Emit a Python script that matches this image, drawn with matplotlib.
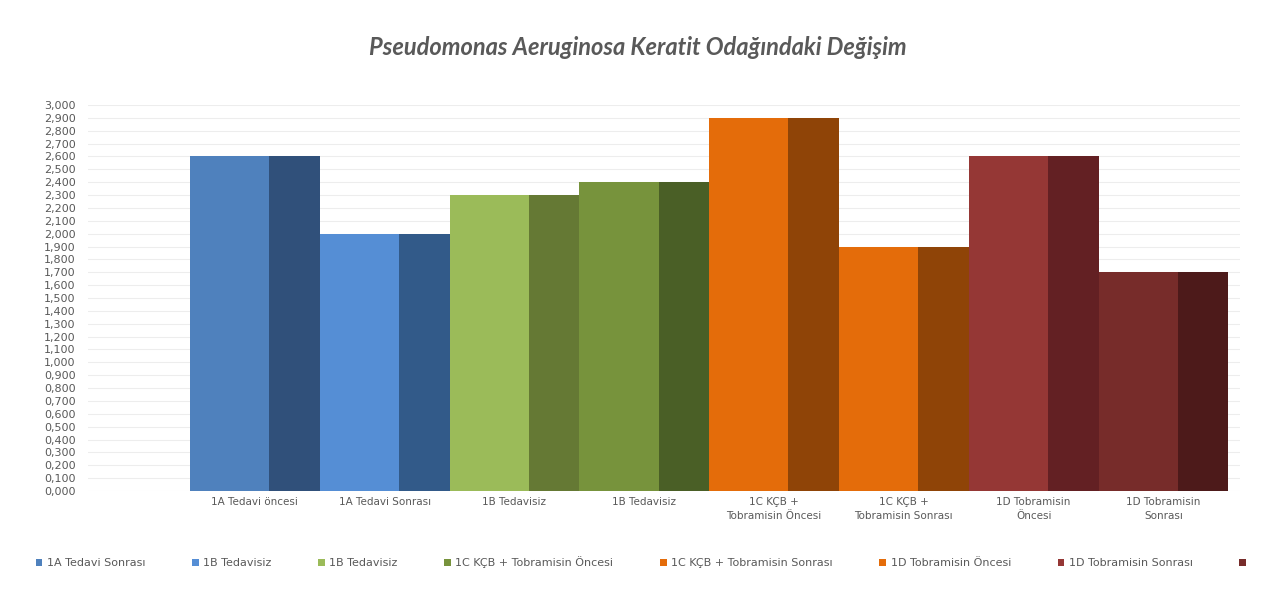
import numpy as np
import matplotlib.pyplot as plt
from matplotlib.patches import Patch

categories = ["1A Tedavi öncesi", "1A Tedavi Sonrası", "1B Tedavisiz", "1B Tedavisiz",
              "1C KÇB +\nTobramisin Öncesi", "1C KÇB +\nTobramisin Sonrası",
              "1D Tobramisin\nÖncesi", "1D Tobramisin\nSonrası"]
front_vals = [2.6, 2.0, 2.3, 2.4, 2.9, 1.9, 2.6, 1.7]
back_vals = [2.6, 2.0, 2.3, 2.4, 2.9, 1.9, 2.6, 1.7]
legend_labels = ["1A Tedavi Sonrası", "1B Tedavisiz", "1B Tedavisiz",
                 "1C KÇB + Tobramisin Öncesi", "1C KÇB + Tobramisin Sonrası",
                 "1D Tobramisin Öncesi", "1D Tobramisin Sonrası", ""]
y_ticks = np.arange(0, 3.01, 0.1)

light = ["#4F81BD", "#558ED5", "#9BBB59", "#77933C", "#E46C0A", "#E46C0A", "#953735", "#772C2A"]
dark = ["#30507A", "#325A89", "#657934", "#4A5F26", "#8F4407", "#8F4407", "#632023", "#4D1A1A"]

fig = plt.figure(figsize=(12.71, 5.95), dpi=100)
ax = fig.add_axes([88 / 1271, 104 / 595, 1152 / 1271, 386 / 595])

x = np.arange(len(categories))
w1 = 0.61
w2 = 0.39
ax.bar(x, front_vals, width=w1, align="edge", color=light, linewidth=0, zorder=3)
ax.bar(x + w1, back_vals, width=w2, align="edge", color=dark, linewidth=0, zorder=3)

ax.set_xlim(-0.786, 8.09)
ax.set_ylim(0, 3.0)
ax.set_yticks(y_ticks)
ax.set_yticklabels([f"{v:.3f}".replace(".", ",") for v in y_ticks], fontsize=8, color="#595959")
ax.set_xticks(x + 0.5)
ax.set_xticklabels(categories, fontsize=7.5, color="#595959", linespacing=1.6)
ax.tick_params(length=0, pad=4)
ax.tick_params(axis="y", pad=9)
ax.grid(axis="y", color="#EDEDED", linewidth=0.8, zorder=0)
for s in ax.spines.values():
    s.set_visible(False)

fig.suptitle("Pseudomonas Aeruginosa Keratit Odağındaki Değişim", x=0.502, y=0.94,
             fontsize=17, fontstyle="italic", fontweight="bold", color="#595959", family="Lato")

handles = [Patch(facecolor=c, edgecolor="none") for c in light]
fig.legend(handles, legend_labels, loc="center", bbox_to_anchor=(0.506, 1 - 562 / 595), ncol=8,
           frameon=False, fontsize=8, labelcolor="#595959", handlelength=0.6, handleheight=0.6,
           handletextpad=0.4, columnspacing=4.2)

fig.savefig("out.png", dpi=100)
